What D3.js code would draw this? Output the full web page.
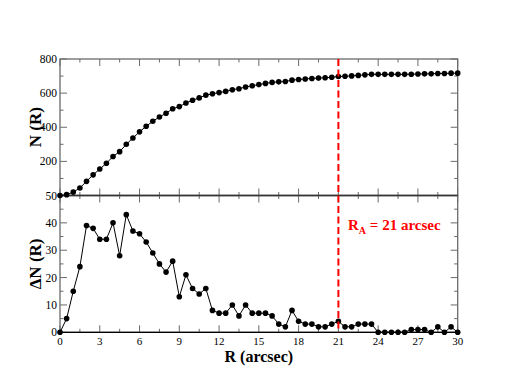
<!DOCTYPE html>
<html><head><meta charset="utf-8">
<script src="https://cdn.jsdelivr.net/npm/d3@7"></script>
<style>body{margin:0;background:#fff}svg{display:block}</style>
</head><body>
<script>
const R = d3.range(0, 30.01, 0.5).map(v => +v.toFixed(1));
const N = [0,5,20,44,83,121,155,189,229,257,300,337,373,406,435,460,482,508,521,542,558,572,588,596,603,610,620,626,636,643,650,657,663,666,668,676,680,683,686,688,690,693,697,699,701,704,707,710,710,710,710,710,710,711,712,713,713,715,715,717,717];
const dN = [0,5,15,24,39,38,34,34,40,28,43,37,36,33,29,25,22,26,13,21,16,14,16,8,7,7,10,6,10,7,7,7,6,3,2,8,4,3,3,2,2,3,4,2,2,3,3,3,0,0,0,0,0,1,1,1,0,2,0,2,0];
const xTicks = [0,3,6,9,12,15,18,21,24,27,30];
const topTicks = [200,400,600,800];
const botTicks = [0,10,20,30,40,50];
const RA = 21;
const raLabel = "R";

const W = 518, H = 392;
const svg = d3.select("body").append("svg").attr("width", W).attr("height", H);
const x = d3.scaleLinear().domain([0, 30]).range([60, 457.7]);
const yT = d3.scaleLinear().domain([0, 800]).range([195.5, 59]);
const yB = d3.scaleLinear().domain([0, 50]).range([332.3, 195.5]);
const frame = "#6a6a6a";
const serif = "Liberation Serif, Times New Roman, DejaVu Serif, serif";

function txt(sel) { return sel.style("font-family", serif); }

function panel(y, majors, minorStep, majorStep, yLab) {
  const g = svg.append("g");
  const [y0, y1] = y.range();
  const [d0, d1] = y.domain();
  const xMin = d3.range(0, 30.01, 1.5);
  xMin.forEach(v => {
    const maj = Math.abs(v / 3 - Math.round(v / 3)) < 1e-6;
    const L = maj ? 7 : 3.5;
    g.append("line").attr("x1", x(v)).attr("x2", x(v)).attr("y1", y0).attr("y2", y0 - L).attr("stroke", frame).attr("stroke-width", 1);
    g.append("line").attr("x1", x(v)).attr("x2", x(v)).attr("y1", y1).attr("y2", y1 + L).attr("stroke", frame).attr("stroke-width", 1);
  });
  d3.range(d0, d1 + 1e-6, minorStep).forEach(v => {
    const maj = Math.abs(v / majorStep - Math.round(v / majorStep)) < 1e-6;
    const L = maj ? 7 : 3.5;
    g.append("line").attr("x1", x(0)).attr("x2", x(0) + L).attr("y1", y(v)).attr("y2", y(v)).attr("stroke", frame);
    g.append("line").attr("x1", x(30)).attr("x2", x(30) - L).attr("y1", y(v)).attr("y2", y(v)).attr("stroke", frame);
  });
  g.append("rect").attr("x", x(0)).attr("y", y1).attr("width", x(30) - x(0)).attr("height", y0 - y1)
    .attr("fill", "none").attr("stroke", frame).attr("stroke-width", 1.3);
  majors.forEach(v => {
    txt(g.append("text")).attr("x", x(0) - 3).attr("y", y(v) + 4).attr("text-anchor", "end")
      .attr("font-size", 11.5).attr("fill", "#000").text(v);
  });
  txt(g.append("text")).attr("transform", `translate(41,${(y0 + y1) / 2}) rotate(-90)`).attr("text-anchor", "middle")
    .attr("font-weight", "bold").attr("font-size", 17).text(yLab);
}
panel(yT, topTicks, 100, 200, "N (R)");
panel(yB, botTicks, 5, 10, "ΔN (R)");

svg.append("line").attr("x1", x(0)).attr("x2", x(30)).attr("y1", yB(0)).attr("y2", yB(0)).attr("stroke", "#000").attr("stroke-width", 1.3);
svg.append("line").attr("x1", x(0)).attr("x2", x(30)).attr("y1", yT(0)).attr("y2", yT(0)).attr("stroke", "#333").attr("stroke-width", 1.3);

xTicks.forEach(v => {
  txt(svg.append("text")).attr("x", x(v)).attr("y", 345).attr("text-anchor", "middle")
    .attr("font-size", 11).text(v);
});
txt(svg.append("text")).attr("x", (x(0) + x(30)) / 2).attr("y", 362).attr("text-anchor", "middle")
  .attr("font-weight", "bold").attr("font-size", 16).text("R (arcsec)");

const ln = (y, vals) => d3.line().x((d, i) => x(R[i])).y(d => y(d))(vals);
[[yT, N], [yB, dN]].forEach(([y, vals]) => {
  svg.append("path").attr("d", ln(y, vals)).attr("fill", "none").attr("stroke", "#000").attr("stroke-width", 1);
  svg.append("g").selectAll("circle").data(vals).join("circle")
    .attr("cx", (d, i) => x(R[i])).attr("cy", d => y(d)).attr("r", 2.8).attr("fill", "#000");
});

svg.append("line").attr("x1", x(RA)).attr("x2", x(RA)).attr("y1", yT(800)).attr("y2", yB(0))
  .attr("stroke", "#ff0000").attr("stroke-width", 2).attr("stroke-dasharray", "7,3.5");

const t = txt(svg.append("text")).attr("x", 348).attr("y", 230)
  .attr("font-weight", "bold").attr("font-size", 15).attr("fill", "#ff0000");
t.append("tspan").text(raLabel);
t.append("tspan").attr("font-size", 10).attr("dy", 4).text("A");
t.append("tspan").attr("dy", -4).text(" = " + RA + " arcsec");
</script>
</body></html>
